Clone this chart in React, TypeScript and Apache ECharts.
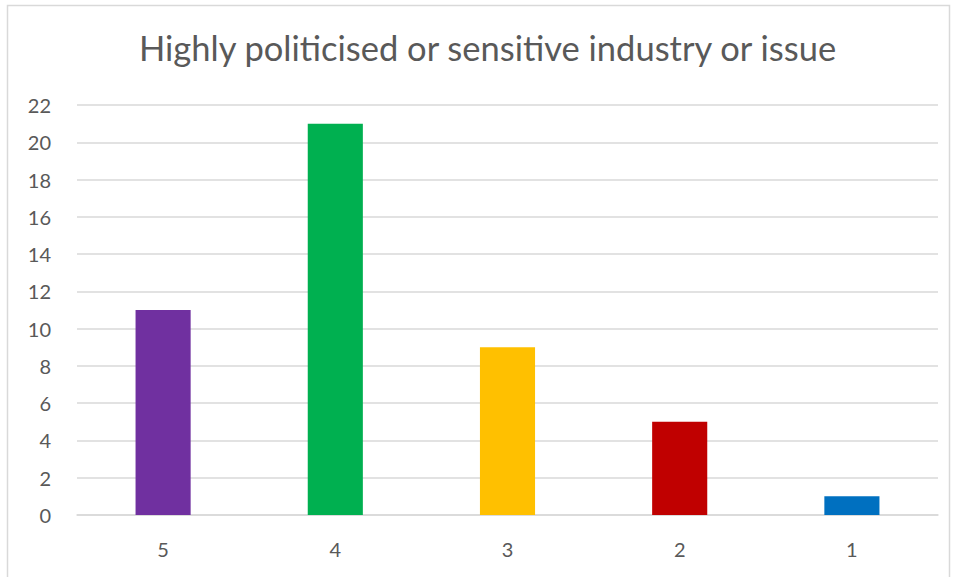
import React, { useEffect, useRef } from "react";
import * as echarts from "echarts";

const categories = ["5", "4", "3", "2", "1"];
const values = [11, 21, 9, 5, 1];
const colors = ["#7030A0", "#00B050", "#FFC000", "#C00000", "#0070C0"];
const titleText = "Highly politicised or sensitive industry or issue";

export default function App() {
  const ref = useRef<HTMLDivElement>(null);
  useEffect(() => {
    if (!ref.current) return;
    const chart = echarts.init(ref.current, null, { renderer: "svg" });
    chart.setOption({
      animation: false,
      backgroundColor: "#ffffff",
      textStyle: { fontFamily: "Lato" },
      title: {
        text: titleText,
        left: 134,
        top: 25,
        textStyle: { fontFamily: "Lato", fontSize: 34.5, fontWeight: "normal", color: "#595959" },
      },
      graphic: [
        {
          type: "rect",
          shape: { x: 7.5, y: 5.5, width: 942, height: 590 },
          style: { fill: "none", stroke: "#d9d9d9", lineWidth: 1.5 },
          silent: true,
        },
      ],
      grid: { left: 77, right: 18, top: 105, bottom: 62, containLabel: false },
      xAxis: {
        type: "category",
        data: categories,
        axisLine: { lineStyle: { color: "#d9d9d9", width: 1.5 } },
        axisTick: { show: false },
        axisLabel: { color: "#595959", fontSize: 20, margin: 24, fontFamily: "Lato" },
      },
      yAxis: {
        type: "value",
        min: 0,
        max: 22,
        interval: 2,
        axisLine: { show: false },
        axisTick: { show: false },
        splitLine: { lineStyle: { color: "#d9d9d9", width: 1.5 } },
        axisLabel: { color: "#595959", fontSize: 20, margin: 26, fontFamily: "Lato" },
      },
      series: [
        {
          type: "bar",
          data: values.map((v, i) => ({ value: v, itemStyle: { color: colors[i] } })),
          barWidth: "32%",
        },
      ],
    });
    return () => chart.dispose();
  }, []);
  return <div ref={ref} style={{ width: 956, height: 577, position: "absolute", left: 0, top: 0 }} />;
}
